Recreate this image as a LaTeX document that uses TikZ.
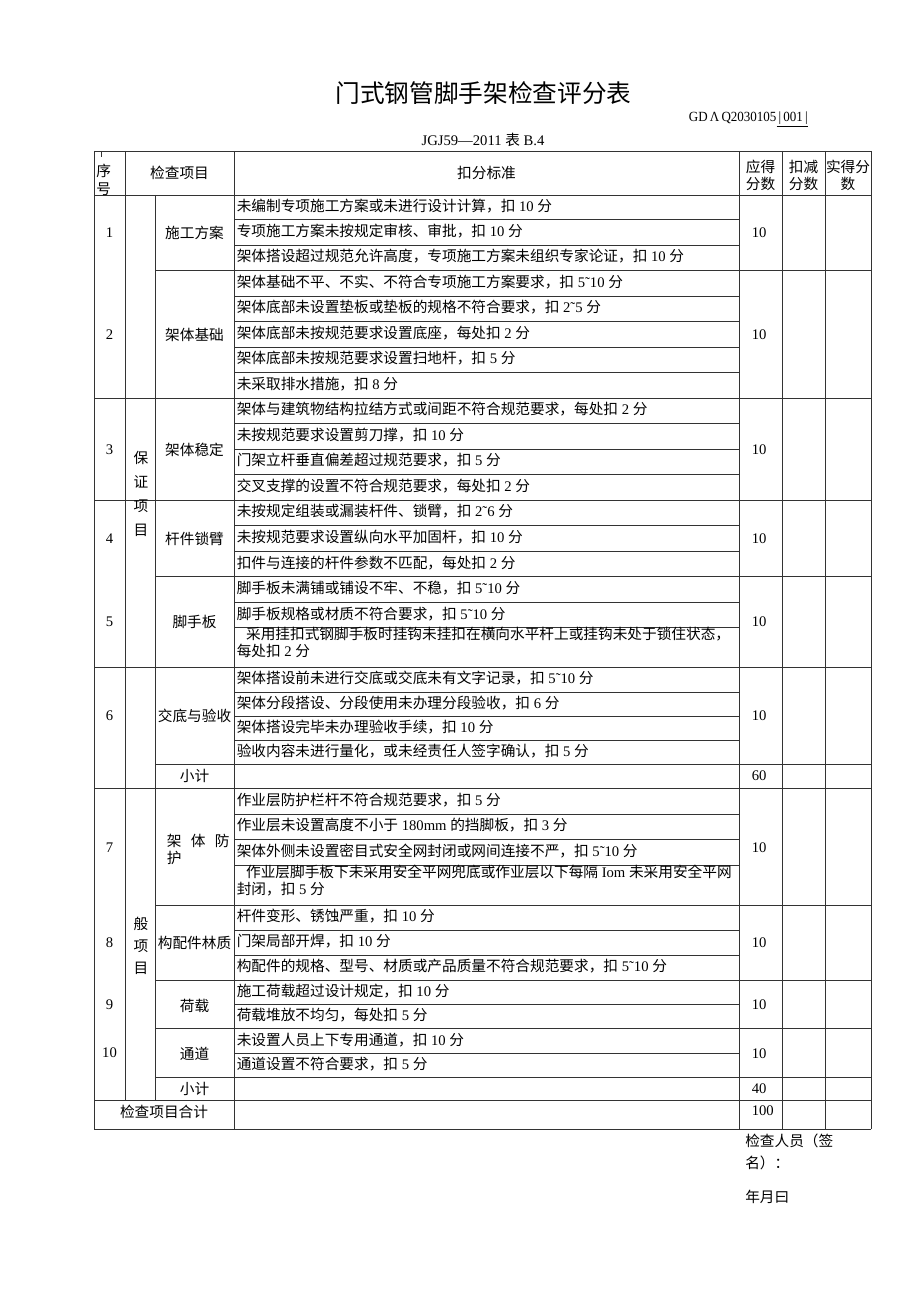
\documentclass[tikz,border=0pt]{standalone}
\usepackage{fontspec}
\setmainfont{Liberation Serif}
\newfontfamily\cjkfont{Noto Sans CJK SC}
% switch to the CJK font for Han characters and full-width signs
\XeTeXinterchartokenstate=1
\newXeTeXintercharclass\cjkclass
\newcommand\setcjkrange[2]{%
  \count255=#1\relax
  \loop
    \XeTeXcharclass\count255=\cjkclass
    \ifnum\count255<#2\relax \advance\count255 by 1 \repeat}
\setcjkrange{"3000}{"303F}
\setcjkrange{"4E00}{"9FFF}
\setcjkrange{"FF00}{"FFEF}
\XeTeXinterchartoks 0 \cjkclass = {\begingroup\cjkfont}
\XeTeXinterchartoks 4095 \cjkclass = {\begingroup\cjkfont}
\XeTeXinterchartoks \cjkclass 0 = {\endgroup}
\XeTeXinterchartoks \cjkclass 4095 = {\endgroup}

\begin{document}
\begin{tikzpicture}[x=0.75pt,y=-0.75pt]
\tikzset{
rule/.style={draw=black!80,line width=0.7pt},
body text/.style={font=\fontsize{11}{12.8}\selectfont,inner sep=0pt},
crit text/.style={body text,anchor=west,align=left},
item text/.style={body text,align=center},
score text/.style={body text,anchor=west}
}
\useasboundingbox (0,0) rectangle (920,1301);

% heading
\node(title)[font=\fontsize{18.5}{22}\selectfont,inner sep=0pt] at (483.5,93) {门式钢管脚手架检查评分表};
\node(code)[font=\fontsize{10.5}{12}\selectfont,inner sep=0pt,anchor=east,xscale=0.93] at (808,119) {GD\,Λ\,Q2030105\underline{\,|\,001\,|}};
\node(std)[font=\fontsize{11}{13}\selectfont,inner sep=0pt] at (483,140) {JGJ59—2011 表 B.4};

% rules of the table
\foreach \y in {151,195,398,500,667,788,1100.5,1129}
  \draw[rule] (94,\y) -- (871,\y);
\foreach \y in {270,576.5,764,905,980,1028.5,1077.5}
  \draw[rule] (155,\y) -- (871,\y);
\foreach \y in {219,245,296,321,347,372,423,449,474,525,551,602,627.5,692,716,740,814,839,865,930,955,1004.5,1053}
  \draw[rule] (234,\y) -- (739,\y);
\foreach \x in {94,234,739,782,825,871}
  \draw[rule] (\x,151) -- (\x,1129);
\draw[rule] (125,151) -- (125,1100.5);
\draw[rule] (155,195) -- (155,1100.5);
\draw[rule] (101,151) -- (101,157);

% header row
\node(h1)[item text,align=left,anchor=west,font=\fontsize{11}{14}\selectfont] at (96,180) {序\\号};
\node(h2)[item text] at (179.5,173) {检查项目};
\node(h3)[item text] at (486.5,173) {扣分标准};
\node(h4)[item text] at (760.5,175) {应得\\分数};
\node(h5)[item text] at (803.5,175) {扣减\\分数};
\node(h6)[item text] at (848,175) {实得分\\数};

% numbers, groups and items
\foreach \y/\n in {233/1,335/2,450/3,539/4,622/5,716/6,848/7,943/8,1005/9,1053/10}
  \node(n\n)[body text] at (109.5,\y) {\n};
\node(g1)[item text,font=\fontsize{11}{18}\selectfont] at (141,494) {保\\证\\项\\目};
\node(g2)[item text,font=\fontsize{11}{16.5}\selectfont] at (141,946) {般\\项\\目};
\foreach \y/\t [count=\i] in {233/施工方案,335/架体基础,450/架体稳定,539/杆件锁臂,622/脚手板,716/交底与验收,776/小计,943/构配件林质,1006/荷载,1054/通道,1089/小计}
  \node(i\i)[item text] at (194.5,\y) {\t};
\node(i12)[item text,align=left,anchor=west] at (166.5,849) {架\hspace{7pt}体\hspace{7pt}防\\护};
\node(sum)[item text] at (164,1112) {检查项目合计};

% deduction rules
\foreach \y/\t [count=\i] in {
  206/{未编制专项施工方案或未进行设计计算，扣 10 分},
  231/{专项施工方案未按规定审核、审批，扣 10 分},
  256.5/{架体搭设超过规范允许高度，专项施工方案未组织专家论证，扣 10 分},
  282/{架体基础不平、不实、不符合专项施工方案要求，扣 5˜10 分},
  307.5/{架体底部未设置垫板或垫板的规格不符合要求，扣 2˜5 分},
  333/{架体底部未按规范要求设置底座，每处扣 2 分},
  358.5/{架体底部未按规范要求设置扫地杆，扣 5 分},
  384/{未采取排水措施，扣 8 分},
  409.5/{架体与建筑物结构拉结方式或间距不符合规范要求，每处扣 2 分},
  435/{未按规范要求设置剪刀撑，扣 10 分},
  460.5/{门架立杆垂直偏差超过规范要求，扣 5 分},
  486/{交叉支撑的设置不符合规范要求，每处扣 2 分},
  511.5/{未按规定组装或漏装杆件、锁臂，扣 2˜6 分},
  537/{未按规范要求设置纵向水平加固杆，扣 10 分},
  563/{扣件与连接的杆件参数不匹配，每处扣 2 分},
  588.5/{脚手板未满铺或铺设不牢、不稳，扣 5˜10 分},
  614/{脚手板规格或材质不符合要求，扣 5˜10 分},
  642/{\hspace{7pt}采用挂扣式钢脚手板时挂钩未挂扣在横向水平杆上或挂钩未处于锁住状态，\\每处扣 2 分},
  678.5/{架体搭设前未进行交底或交底未有文字记录，扣 5˜10 分},
  703/{架体分段搭设、分段使用未办理分段验收，扣 6 分},
  727/{架体搭设完毕未办理验收手续，扣 10 分},
  751/{验收内容未进行量化，或未经责任人签字确认，扣 5 分},
  800/{作业层防护栏杆不符合规范要求，扣 5 分},
  825.5/{作业层未设置高度不小于 180mm 的挡脚板，扣 3 分},
  851/{架体外侧未设置密目式安全网封闭或网间连接不严，扣 5˜10 分},
  881/{\hspace{7pt}作业层脚手板下未采用安全平网兜底或作业层以下每隔 Iom 未采用安全平网\\封闭，扣 5 分},
  916.5/{杆件变形、锈蚀严重，扣 10 分},
  941.5/{门架局部开焊，扣 10 分},
  966.5/{构配件的规格、型号、材质或产品质量不符合规范要求，扣 5˜10 分},
  991/{施工荷载超过设计规定，扣 10 分},
  1015.5/{荷载堆放不均匀，每处扣 5 分},
  1040/{未设置人员上下专用通道，扣 10 分},
  1064.5/{通道设置不符合要求，扣 5 分}}
  \node(c\i)[crit text] at (236.5,\y) {\t};

% scores
\foreach \y/\s [count=\i] in {233/10,335/10,450/10,539/10,622/10,716/10,776/60,848/10,943/10,1005/10,1054/10,1089/40,1111/100}
  \node(s\i)[score text] at (751.5,\y) {\s};

% signature
\node(sign)[body text,align=left,anchor=west,font=\fontsize{11}{16.5}\selectfont] at (745,1152) {检查人员（签\\名）：};
\node(date)[body text,anchor=west] at (745,1197) {年月曰};
\end{tikzpicture}
\end{document}
